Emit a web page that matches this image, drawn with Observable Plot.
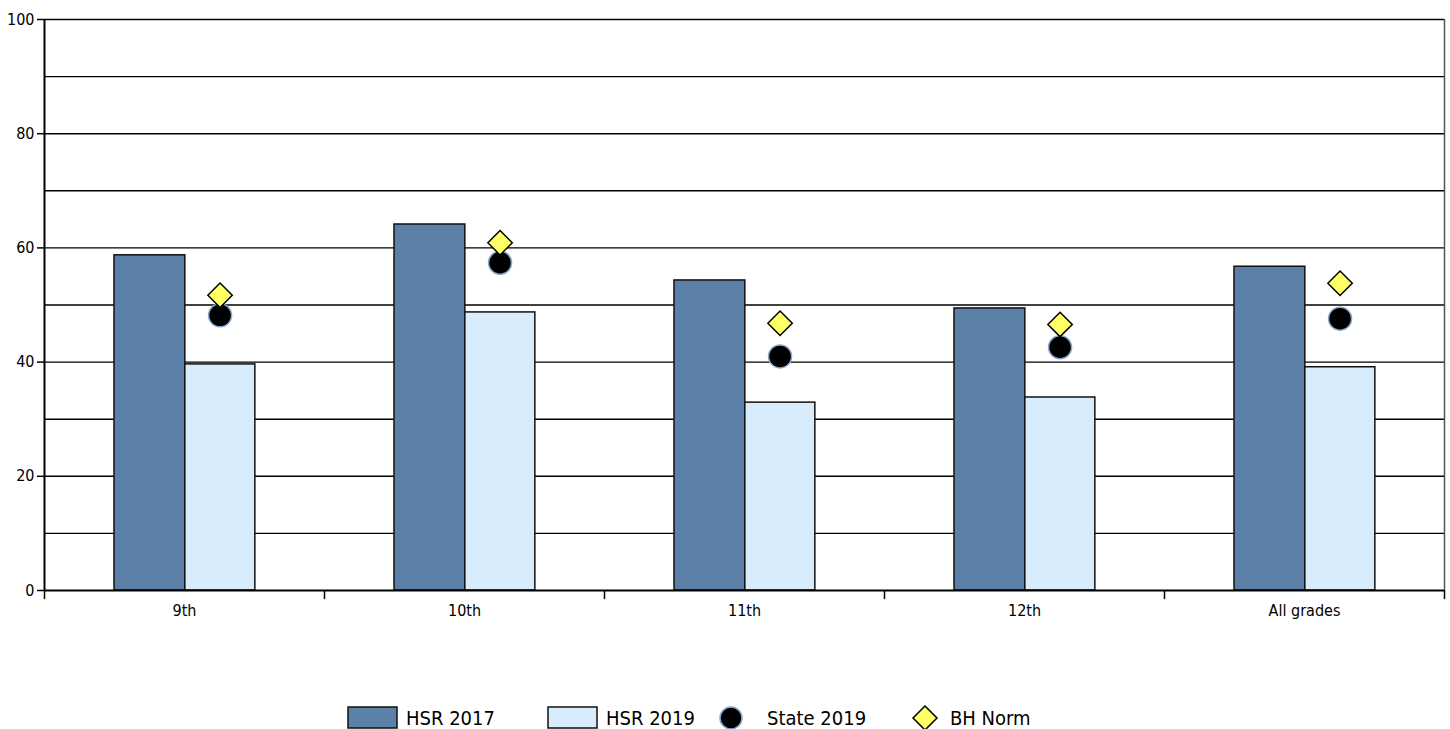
<!DOCTYPE html>
<html>
<head>
<meta charset="utf-8">
<script src="https://cdn.jsdelivr.net/npm/d3@7"></script>
<script src="https://cdn.jsdelivr.net/npm/@observablehq/plot@0.6"></script>
<style>
  html, body { margin: 0; padding: 0; background: #fff; }
  body { width: 1450px; height: 729px; overflow: hidden; position: relative; font-family: "DejaVu Sans Condensed", "DejaVu Sans", sans-serif; font-stretch: condensed; }
  #legend { position: absolute; left: 0; top: 705px; width: 1450px; height: 26px; font-size: 20px; color: #000; }
  #legend .item { position: absolute; top: 0; display: flex; align-items: center; height: 26px; }
  #legend svg { display: block; }
  svg text { font-stretch: condensed; }
</style>
</head>
<body>
<div id="chart"></div>
<div id="legend"></div>
<script>
const categories = ["9th", "10th", "11th", "12th", "All grades"];
const hsr2017   = [58.7, 64.1, 54.3, 49.4, 56.7];
const hsr2019   = [39.6, 48.7, 32.9, 33.8, 39.1];
const state2019 = [48.2, 57.4, 41.0, 42.6, 47.6];
const bhNorm    = [51.7, 60.9, 46.8, 46.6, 53.8];
const yTickLabels = [0, 20, 40, 60, 80, 100];
const gridValues = [10, 20, 30, 40, 50, 60, 70, 80, 90, 100];

const series = ["HSR 2017", "HSR 2019", "State 2019", "BH Norm"];
const colors = { dark: "#5b81a8", light: "#d9ecfb", dot: "#000000", dotStroke: "#8aa9cc", diamond: "#ffff66" };

const data = categories.map((c, i) => ({ cat: c, h17: hsr2017[i], h19: hsr2019[i], st: state2019[i], bh: bhNorm[i] }));

const W = 1450, H = 630, mL = 44, mR = 6, mT = 19, mB = 40;
const bw = (W - mL - mR) / categories.length;
const font = "'DejaVu Sans Condensed', 'DejaVu Sans', sans-serif";

const chart = Plot.plot({
  width: W, height: H,
  marginLeft: mL, marginRight: mR, marginTop: mT, marginBottom: mB,
  style: { fontFamily: font, fontSize: "16px", color: "#000", background: "#fff" },
  x: { domain: categories, padding: 0, label: null },
  y: { domain: [0, 100], label: null },
  marks: [
    Plot.gridY(gridValues, { stroke: "#000", strokeOpacity: 1, strokeWidth: 1.4 }),
    Plot.barY(data, { x: "cat", y: "h17", fill: colors.dark, stroke: "#111", strokeWidth: 1.5, insetLeft: bw * 0.25, insetRight: bw * 0.497 }),
    Plot.barY(data, { x: "cat", y: "h19", fill: colors.light, stroke: "#111", strokeWidth: 1.5, insetLeft: bw * 0.503, insetRight: bw * 0.247 }),
    Plot.dot(data, { x: "cat", y: "st", dx: bw * 0.127, r: 11.5, fill: colors.dot, stroke: colors.dotStroke, strokeWidth: 1.5 }),
    Plot.dot(data, { x: "cat", y: "bh", dx: bw * 0.127, r: 11, symbol: "diamond2", fill: colors.diamond, stroke: "#000", strokeWidth: 1.5 }),
    Plot.ruleY([0], { stroke: "#000", strokeWidth: 2 }),
    Plot.ruleX([categories[0]], { dx: -bw / 2, stroke: "#000", strokeWidth: 2 }),
    Plot.ruleX([categories[categories.length - 1]], { dx: bw / 2, stroke: "#555", strokeWidth: 1.5 }),
    Plot.ruleX(categories, { x: d => d, y1: 0, y2: -1.6, dx: -bw / 2, stroke: "#000", strokeWidth: 1.5, clip: false }),
    Plot.ruleX([categories[categories.length - 1]], { y1: 0, y2: -1.6, dx: bw / 2, stroke: "#000", strokeWidth: 1.5, clip: false }),
    Plot.axisY({ ticks: yTickLabels, tickSize: 7, tickPadding: 3, fontSize: 16, stroke: "#000", strokeWidth: 1.5 }),
    Plot.axisX({ tickSize: 0, tickPadding: 14, fontSize: 16 })
  ]
});
document.getElementById("chart").appendChild(chart);

// Legend
const legend = d3.select("#legend");
const items = [
  { label: series[0], type: "rect", fill: colors.dark, left: 347 },
  { label: series[1], type: "rect", fill: colors.light, left: 547 },
  { label: series[2], type: "circle", fill: colors.dot, left: 717 },
  { label: series[3], type: "diamond", fill: colors.diamond, left: 911 }
];
items.forEach(it => {
  const d = legend.append("div").attr("class", "item").style("left", it.left + "px");
  if (it.type === "rect") {
    const s = d.append("svg").attr("width", 52).attr("height", 24).style("margin-right", 7);
    s.append("rect").attr("x", 1).attr("y", 1).attr("width", 49).attr("height", 21).attr("fill", it.fill).attr("stroke", "#111").attr("stroke-width", 1.5);
  } else if (it.type === "circle") {
    const s = d.append("svg").attr("width", 28).attr("height", 28).style("margin-right", 22);
    s.append("circle").attr("cx", 14).attr("cy", 14).attr("r", 11).attr("fill", it.fill).attr("stroke", colors.dotStroke).attr("stroke-width", 1.5);
  } else {
    const s = d.append("svg").attr("width", 28).attr("height", 28).style("margin-right", 11);
    s.append("path").attr("d", "M14,2L26,14L14,26L2,14Z").attr("fill", it.fill).attr("stroke", "#000").attr("stroke-width", 1.5);
  }
  d.append("span").text(it.label);
});
</script>
</body>
</html>
